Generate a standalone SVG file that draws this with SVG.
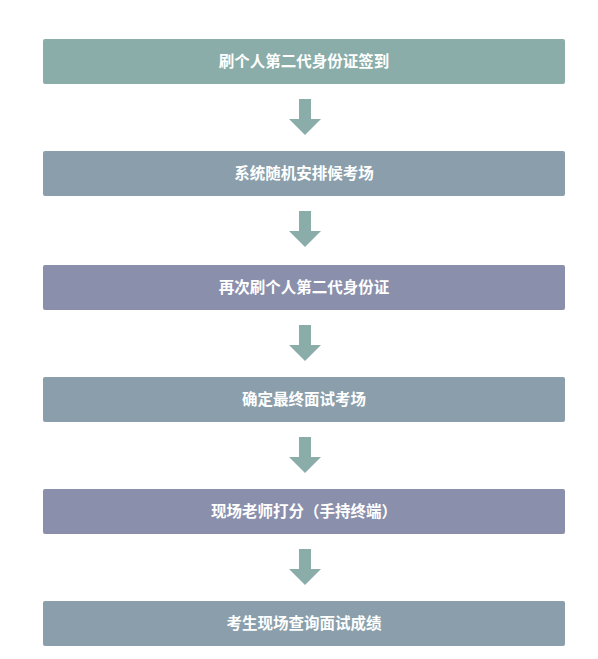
<svg xmlns="http://www.w3.org/2000/svg" width="598" height="659" viewBox="0 0 598 659">
<style>
.box{stroke:none}
.t{font-family:"Liberation Sans","Noto Sans CJK SC",sans-serif;font-size:15.5px;font-weight:bold;fill:#ffffff;text-anchor:middle;dominant-baseline:central}
.arr{fill:#8aada9}
</style>
<defs>
<path id="ar" d="M-6,0 H6 V20 H16 L0,36 L-16,20 H-6 Z"/>
</defs>
<rect width="598" height="659" fill="#ffffff"/>
<g id="n1"><rect class="box" x="43" y="39" width="522" height="45" rx="2" fill="#8aada9"/><text class="t" x="304" y="61.5">刷个人第二代身份证签到</text></g>
<g id="n2"><rect class="box" x="43" y="151" width="522" height="45" rx="2" fill="#8a9fab"/><text class="t" x="304" y="173.5">系统随机安排候考场</text></g>
<g id="n3"><rect class="box" x="43" y="265" width="522" height="45" rx="2" fill="#8a8fac"/><text class="t" x="304" y="287.5">再次刷个人第二代身份证</text></g>
<g id="n4"><rect class="box" x="43" y="377" width="522" height="45" rx="2" fill="#8a9fab"/><text class="t" x="304" y="399.5">确定最终面试考场</text></g>
<g id="n5"><rect class="box" x="43" y="489" width="522" height="45" rx="2" fill="#8a8fac"/><text class="t" x="304" y="511.5">现场老师打分（手持终端）</text></g>
<g id="n6"><rect class="box" x="43" y="601" width="522" height="45" rx="2" fill="#8a9fab"/><text class="t" x="304" y="623.5">考生现场查询面试成绩</text></g>
<g id="connectors" class="arr">
<use href="#ar" x="305" y="99"/>
<use href="#ar" x="305" y="211"/>
<use href="#ar" x="305" y="325"/>
<use href="#ar" x="305" y="437"/>
<use href="#ar" x="305" y="549"/>
</g>
</svg>
